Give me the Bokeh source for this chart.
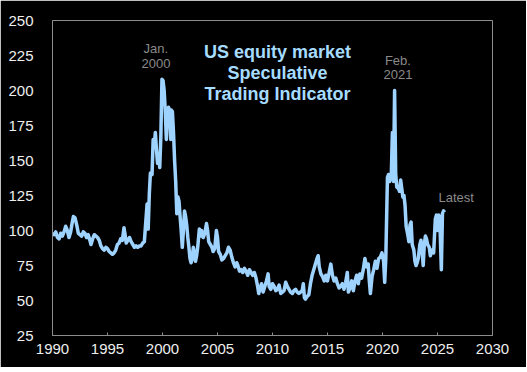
from bokeh.plotting import figure
from bokeh.models import FixedTicker, Label, Range1d
from bokeh.embed import file_html
from bokeh.resources import INLINE

years = [
    1990.0, 1990.15, 1990.3, 1990.45, 1990.6, 1990.75, 1990.9, 1991.05, 1991.2, 1991.35,
    1991.5, 1991.65, 1991.8, 1991.9, 1992.05, 1992.2, 1992.35, 1992.5, 1992.65, 1992.8,
    1992.95, 1993.1, 1993.25, 1993.4, 1993.5, 1993.65, 1993.8, 1993.95, 1994.1, 1994.25,
    1994.4, 1994.55, 1994.7, 1994.85, 1995.0, 1995.15, 1995.3, 1995.45, 1995.6, 1995.75,
    1995.9, 1996.05, 1996.2, 1996.35, 1996.5, 1996.6, 1996.7, 1996.85, 1997.0, 1997.15,
    1997.3, 1997.45, 1997.6, 1997.75, 1997.9, 1998.05, 1998.2, 1998.35, 1998.45, 1998.6,
    1998.7, 1998.8, 1998.9, 1999.05, 1999.15, 1999.25, 1999.35, 1999.45, 1999.55, 1999.65,
    1999.75, 1999.85, 1999.95, 2000.05, 2000.15, 2000.25, 2000.35, 2000.45, 2000.55, 2000.65,
    2000.75, 2000.8, 2000.9, 2001.0, 2001.1, 2001.2, 2001.3, 2001.4, 2001.5, 2001.6,
    2001.7, 2001.8, 2001.9, 2002.0, 2002.1, 2002.2, 2002.3, 2002.4, 2002.5, 2002.6,
    2002.7, 2002.8, 2002.9, 2003.0, 2003.1, 2003.2, 2003.35, 2003.45, 2003.55, 2003.7,
    2003.85, 2004.0, 2004.1, 2004.2, 2004.35, 2004.5, 2004.6, 2004.75, 2004.9, 2005.0,
    2005.1, 2005.25, 2005.4, 2005.55, 2005.7, 2005.85, 2006.0, 2006.15, 2006.3, 2006.45,
    2006.6, 2006.75, 2006.85, 2007.0, 2007.15, 2007.3, 2007.45, 2007.6, 2007.75, 2007.9,
    2008.05, 2008.2, 2008.35, 2008.5, 2008.65, 2008.75, 2008.85, 2009.0, 2009.15, 2009.3,
    2009.45, 2009.6, 2009.7, 2009.85, 2010.0, 2010.15, 2010.3, 2010.45, 2010.6, 2010.75,
    2010.9, 2011.05, 2011.2, 2011.35, 2011.5, 2011.65, 2011.8, 2011.95, 2012.1, 2012.25,
    2012.4, 2012.55, 2012.7, 2012.8, 2012.9, 2013.0, 2013.15, 2013.3, 2013.45, 2013.6,
    2013.75, 2013.9, 2014.05, 2014.15, 2014.25, 2014.4, 2014.55, 2014.7, 2014.85, 2015.0,
    2015.15, 2015.3, 2015.45, 2015.6, 2015.75, 2015.9, 2016.05, 2016.2, 2016.35, 2016.5,
    2016.65, 2016.8, 2016.9, 2017.05, 2017.2, 2017.35, 2017.5, 2017.65, 2017.8, 2017.95,
    2018.1, 2018.25, 2018.4, 2018.55, 2018.7, 2018.8, 2018.9, 2019.05, 2019.2, 2019.35,
    2019.5, 2019.65, 2019.8, 2019.95, 2020.1, 2020.2, 2020.3, 2020.45, 2020.55, 2020.65,
    2020.8, 2020.9, 2021.0, 2021.1, 2021.2, 2021.3, 2021.45, 2021.55, 2021.65, 2021.75,
    2021.85, 2021.95, 2022.05, 2022.15, 2022.3, 2022.4, 2022.5, 2022.6, 2022.7, 2022.85,
    2022.95, 2023.05, 2023.15, 2023.25, 2023.4, 2023.5, 2023.6, 2023.7, 2023.8, 2023.9,
    2024.0, 2024.1, 2024.25, 2024.35, 2024.5, 2024.65, 2024.8, 2024.9, 2025.0, 2025.1,
    2025.2, 2025.35, 2025.45, 2025.55, 2025.65,
]
values = [
    98, 97, 99, 95, 94, 98, 96, 99, 103, 100,
    95, 99, 106, 110, 109, 104, 98, 97, 96, 99,
    98, 95, 97, 93, 90, 94, 97, 96, 95, 93,
    89, 87, 86, 88, 87, 85, 84, 83, 84, 86,
    90, 91, 94, 93, 102, 97, 91, 93, 95, 92,
    90, 88, 89, 88, 89, 89, 91, 92, 103, 119,
    101, 126, 141, 140, 165, 160, 170, 158, 148, 155,
    145, 167, 208, 207, 200, 186, 165, 185, 188, 186,
    165, 186, 185, 170, 150, 135, 112, 124, 121, 110,
    100, 88, 100, 114, 110, 104, 95, 88, 80, 77,
    80, 88, 84, 78, 82, 88, 101, 96, 100, 95,
    98, 105, 100, 92, 90, 88, 85, 87, 100, 95,
    85, 83, 79, 80, 82, 84, 88, 86, 81, 77,
    74, 77, 75, 71, 72, 70, 73, 71, 68, 72,
    70, 68, 70, 66, 60, 55, 58, 62, 56, 60,
    64, 69, 60, 58, 62, 60, 57, 58, 61, 55,
    56, 57, 63, 60, 58, 56, 55, 57, 58, 56,
    55, 56, 57, 62, 52, 51, 53, 54, 62, 68,
    72, 76, 80, 82, 74, 69, 67, 64, 68, 64,
    70, 76, 68, 64, 66, 62, 59, 60, 62, 58,
    63, 70, 56, 59, 64, 57, 64, 68, 62, 69,
    66, 72, 80, 74, 76, 64, 55, 67, 72, 78,
    73, 80, 81, 84, 78, 63, 80, 138, 140, 135,
    140, 170, 135, 200, 140, 131, 130, 128, 136, 130,
    124, 125, 118, 103, 97, 92, 104, 106, 90, 86,
    78, 75, 77, 80, 90, 93, 85, 75, 90, 96,
    94, 90, 88, 82, 86, 84, 108, 111, 100, 111,
    110, 72, 112, 114, 113,
]

x_ticks = [1990, 1995, 2000, 2005, 2010, 2015, 2020, 2025, 2030]
y_ticks = [25, 50, 75, 100, 125, 150, 175, 200, 225, 250]

title_lines = ["US equity market", "Speculative", "Trading Indicator"]
peak1_lines = ["Jan.", "2000"]
peak2_lines = ["Feb.", "2021"]
latest_text = "Latest"

FONT = "Liberation Sans"
GRAY = "#8a8a8a"
LINE_BLUE = "#9fd3ff"
TITLE_BLUE = "#a6dcff"

p = figure(width=526, height=367, output_backend="svg", toolbar_location=None,
           x_range=Range1d(1990, 2030), y_range=Range1d(25, 250),
           min_border_left=52, min_border_right=34, min_border_top=20, min_border_bottom=32)
p.background_fill_color = "black"
p.border_fill_color = "black"
p.outline_line_color = "#8c8c8c"
p.outline_line_width = 1
p.xgrid.visible = False
p.ygrid.visible = False

p.line(years, values, line_color=LINE_BLUE, line_width=3.5, line_join="round")

for ax in (p.xaxis[0], p.yaxis[0]):
    ax.axis_line_color = "#8c8c8c"
    ax.major_label_text_color = "#eeeeee"
    ax.major_label_text_font = FONT
    ax.major_label_text_font_size = "15px"
    ax.minor_tick_line_color = None

p.xaxis.ticker = FixedTicker(ticks=x_ticks)
p.xaxis.major_tick_in = 3
p.xaxis.major_tick_out = 0
p.xaxis.major_tick_line_color = "#8c8c8c"
p.xaxis.major_label_standoff = 8

p.yaxis.ticker = FixedTicker(ticks=y_ticks)
p.yaxis.major_tick_line_color = None
p.yaxis.major_label_standoff = 13

title_y = [227.4, 212.6, 197.6]
for txt, yy in zip(title_lines, title_y):
    p.add_layout(Label(x=2010.45, y=yy, text=txt, text_align="center", text_baseline="middle",
                       text_font=FONT, text_font_style="bold", text_font_size="18px",
                       text_color=TITLE_BLUE))

for txt, yy in zip(peak1_lines, [230.0, 219.6]):
    p.add_layout(Label(x=1999.4, y=yy, text=txt, text_align="center", text_baseline="middle",
                       text_font=FONT, text_font_size="13px", text_color=GRAY))

for txt, yy in zip(peak2_lines, [221.4, 211.4]):
    p.add_layout(Label(x=2021.4, y=yy, text=txt, text_align="center", text_baseline="middle",
                       text_font=FONT, text_font_size="13px", text_color=GRAY))

p.add_layout(Label(x=2026.7, y=123.8, text=latest_text, text_align="center", text_baseline="middle",
                   text_font=FONT, text_font_size="13px", text_color=GRAY))

html = file_html(p, INLINE)
html = html.replace("<body>", '<body style="background-color:#000000;">', 1)
open("out.html", "w").write(html)
